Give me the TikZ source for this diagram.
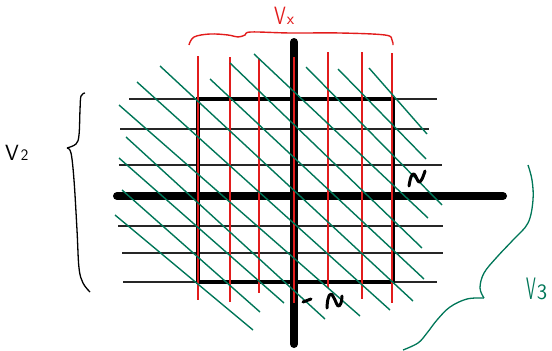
\documentclass[tikz,border=0pt]{standalone}
\usepackage{graphicx}
\definecolor{grn}{RGB}{0,118,88}
\definecolor{rd}{RGB}{226,28,28}
\begin{document}
\begin{tikzpicture}[x=1pt,y=-1pt,
  thinline/.style={line width=1.5pt,black!85},
  boxline/.style={line width=4pt,black},
  axisline/.style={line width=8pt,black,line cap=round},
  redline/.style={line width=1.6pt,rd},
  grnline/.style={line width=1.4pt,grn},
  squig/.style={line width=3pt,black,line cap=round,line join=round},
  lbl/.style={inner sep=0pt,font=\sffamily}]
\useasboundingbox (0,0) rectangle (552,351);
% thin horizontal lines
\draw[thinline] (129,99) -- (437,99);
\draw[thinline] (120,129) -- (429,129);
\draw[thinline] (119,165) -- (442,165);
\draw[thinline] (118,226) -- (443,226);
\draw[thinline] (122,253) -- (443,253);
\draw[thinline] (123,282) -- (437,282);
% square
\draw[boxline] (198,99) rectangle (393,282);
% axes
\draw[axisline] (117,196) -- (503,196);
\draw[axisline] (294,42) -- (294,344);
% red vertical lines
\draw[redline] (198,56) -- (198,300);
\draw[redline] (230,57) -- (230,302);
\draw[redline] (259,59) -- (259,293);
\draw[redline] (294,57) -- (294,303);
\draw[redline] (328,52) -- (328,288);
\draw[redline] (362,52) -- (362,299);
\draw[redline] (392,53) -- (392,303);
% green diagonal lines
\draw[grnline] (369,68) -- (427,134);
\draw[grnline] (338,69) -- (426,159);
\draw[grnline] (306,67) -- (442,205);
\draw[grnline] (254,54) -- (428,218);
\draw[grnline] (230,63) -- (422,248);
\draw[grnline] (210,79) -- (424,279);
\draw[grnline] (160,66) -- (413,301);
\draw[grnline] (137,82) -- (390,310);
\draw[grnline] (119,105) -- (360,316);
\draw[grnline] (126,137) -- (325,319);
\draw[grnline] (119,158) -- (284,303);
\draw[grnline] (122,190) -- (260,312);
\draw[grnline] (115,215) -- (253,330);
% squiggles
\draw[squig] plot[smooth,tension=0.7] coordinates
  {(409,186) (411,177) (414,174) (417,179) (419,182) (422,179) (425,171)};
\draw[squig] (303,302) -- (311,299);
\draw[squig] plot[smooth,tension=0.7] coordinates
  {(327,308) (328,299) (331,294) (335,300) (338,306) (341,303) (342,296)};
% red brace (top)
\draw[rd,line width=1.4pt] plot[smooth,tension=0.6] coordinates
  {(189,45) (194,37) (210,34) (228,35) (238,37) (245,35) (251,32) (290,33) (340,33) (385,35) (392,40) (393,45)};
% black brace (left)
\draw[black,line width=1.3pt] plot[smooth,tension=0.6] coordinates
  {(85,93) (81,96) (80,110) (79,135) (76,144) (67,148)};
\draw[black,line width=1.3pt] plot[smooth,tension=0.6] coordinates
  {(67,148) (71,153) (74,180) (77,230) (79,268) (83,283) (90,292)};
% green brace (right)
\draw[grn,line width=1.3pt] plot[smooth,tension=0.6] coordinates
  {(528,165) (532,180) (533,200) (528,223) (513,240) (497,257) (484,273) (480,288) (484,298)};
\draw[grn,line width=1.3pt] plot[smooth,tension=0.6] coordinates
  {(484,298) (467,299) (450,307) (437,320) (427,333) (418,343) (403,350)};
% labels
\node[lbl,text=rd,anchor=base west] (vx) at (274,24)
  {\scalebox{0.75}[1]{\fontsize{25}{25}\selectfont V}\kern1pt{\fontsize{17}{17}\selectfont x}};
\node[lbl,text=black,anchor=base west] (v2) at (5,160)
  {{\fontsize{22}{22}\selectfont V}\kern2pt{\fontsize{16}{16}\selectfont 2}};
\node[lbl,text=grn,anchor=base west] (v3) at (526,299)
  {\scalebox{0.5}[1]{\fontsize{31}{31}\selectfont V}\kern1pt{\fontsize{22}{22}\selectfont 3}};
\end{tikzpicture}
\end{document}
